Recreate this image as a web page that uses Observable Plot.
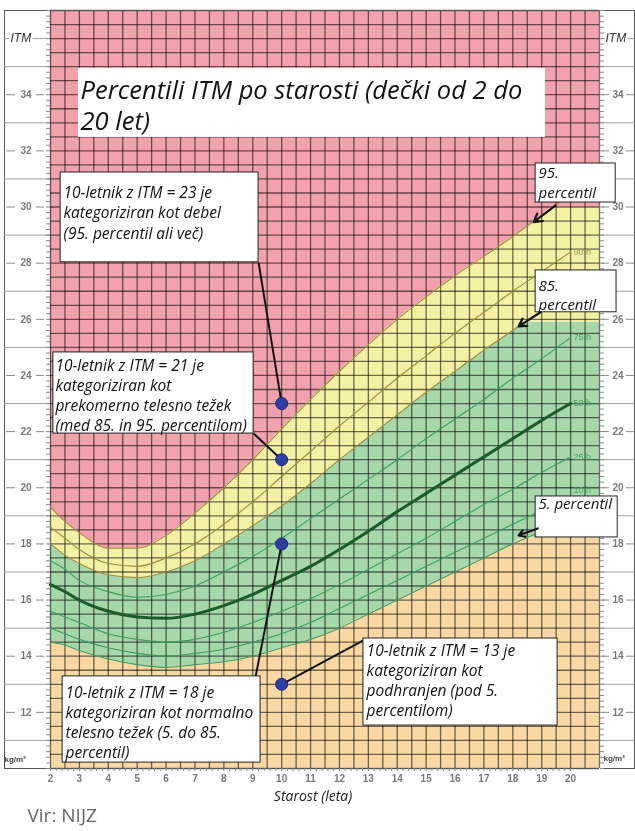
<!DOCTYPE html>
<html>
<head>
<meta charset="utf-8">
<script src="https://cdn.jsdelivr.net/npm/d3@7"></script>
<script src="https://cdn.jsdelivr.net/npm/@observablehq/plot@0.6"></script>
<style>
  html, body { margin: 0; padding: 0; background: #fff; }
  #chart svg { display: block; }
</style>
</head>
<body>
<div id="chart"></div>
<script>
// ---------------- DATA ----------------
const ages = [2, 2.5, 3, 4, 5, 6, 7, 8, 9, 10, 11, 12, 13, 14, 15, 16, 17, 18, 19, 20];
const p5  = [14.5, 14.4, 14.2, 13.9, 13.7, 13.6, 13.7, 13.8, 14.0, 14.3, 14.6, 15.0, 15.5, 16.0, 16.5, 17.0, 17.5, 18.0, 18.45, 18.9];
const p10 = [15.0, 14.8, 14.6, 14.3, 14.1, 14.0, 14.1, 14.25, 14.5, 14.8, 15.2, 15.7, 16.2, 16.7, 17.2, 17.7, 18.2, 18.7, 19.2, 19.7];
const p25 = [15.6, 15.4, 15.2, 14.8, 14.6, 14.5, 14.6, 14.85, 15.2, 15.6, 16.05, 16.55, 17.1, 17.65, 18.2, 18.8, 19.4, 19.95, 20.55, 21.1];
const p50 = [16.55, 16.3, 16.0, 15.6, 15.4, 15.35, 15.5, 15.8, 16.2, 16.7, 17.2, 17.8, 18.45, 19.15, 19.8, 20.45, 21.1, 21.75, 22.4, 23.0];
const p75 = [17.4, 17.1, 16.7, 16.3, 16.1, 16.2, 16.5, 17.0, 17.55, 18.2, 18.9, 19.6, 20.3, 21.0, 21.75, 22.45, 23.15, 23.9, 24.6, 25.35];
const p85 = [18.0, 17.6, 17.3, 16.9, 16.8, 17.0, 17.4, 18.0, 18.65, 19.35, 20.15, 21.0, 21.8, 22.6, 23.4, 24.15, 24.9, 25.6, 26.3, 27.0];
const p90 = [18.6, 18.2, 17.8, 17.3, 17.2, 17.5, 18.0, 18.7, 19.5, 20.4, 21.3, 22.2, 23.05, 23.9, 24.7, 25.5, 26.25, 27.0, 27.7, 28.4];
const p95 = [19.3, 18.8, 18.4, 17.85, 17.85, 18.3, 19.1, 20.0, 21.0, 22.1, 23.15, 24.15, 25.1, 26.0, 26.8, 27.55, 28.25, 28.95, 29.7, 30.45];

// coloured zone boundaries (as painted in the picture, flattening at the right end)
const zoneAges = [2, 2.5, 3, 4, 5, 6, 7, 8, 9, 10, 11, 12, 13, 14, 15, 16, 17, 18, 18.3, 19, 19.4, 20, 21];
const zone5  = [14.5, 14.4, 14.2, 13.9, 13.7, 13.6, 13.7, 13.8, 14.0, 14.3, 14.6, 15.0, 15.5, 16.0, 16.5, 17.0, 17.5, 18.0, 18.2, 18.25, 18.25, 18.25, 18.25];
const zone85 = [18.0, 17.6, 17.3, 16.9, 16.8, 17.0, 17.4, 18.0, 18.65, 19.35, 20.15, 21.0, 21.8, 22.6, 23.4, 24.15, 24.9, 25.6, 25.85, 25.9, 25.9, 25.9, 25.9];
const zone95 = [19.3, 18.8, 18.4, 17.85, 17.85, 18.3, 19.1, 20.0, 21.0, 22.1, 23.15, 24.15, 25.1, 26.0, 26.8, 27.55, 28.25, 28.95, 29.15, 29.7, 30.0, 30.0, 30.0];

// example children (age 10)
const exampleAges = [10, 10, 10, 10];
const exampleBmi  = [23, 21, 18, 13];

// tick labels
const xTickLabels = [2, 3, 4, 5, 6, 7, 8, 9, 10, 11, 12, 13, 14, 15, 16, 17, 18, 19, 20];
const yTickLabels = [12, 14, 16, 18, 20, 22, 24, 26, 28, 30, 32, 34];
const yOddLines   = [11, 13, 15, 17, 19, 21, 23, 25, 27, 29, 31, 33, 35, 36];

// texts
const titleText = "Percentili ITM po starosti (dečki od 2 do\n20 let)";
const noteTexts = [
  "10-letnik z ITM = 23 je\nkategoriziran kot debel\n(95. percentil ali več)",
  "10-letnik z ITM = 21 je\nkategoriziran kot\nprekomerno telesno težek\n(med 85. in 95. percentilom)",
  "10-letnik z ITM = 18 je\nkategoriziran kot normalno\ntelesno težek (5. do 85.\npercentil)",
  "10-letnik z ITM = 13 je\nkategoriziran kot\npodhranjen (pod 5.\npercentilom)"
];
const percentileNotes = ["95.\npercentil", "85.\npercentil", "5. percentil"];
const lineLabelNames = ["90th", "75th", "50th", "25th", "10th"];

// ---------------- LAYOUT (annotation placement, in chart units) ----------------
const xMin = 2, xMax = 21, yMin = 10, yMax = 37;
const titleBox = {x1: 2.97, x2: 19.13, y1: 32.48, y2: 34.94, tx: 3.04, ty: 34.65};
const noteBoxes = [
  {x1: 2.35, x2: 9.20, y1: 28.03, y2: 31.23, tx: 2.45, ty: 30.82, cx: 9.20, cy: 28.03},
  {x1: 2.10, x2: 9.03, y1: 21.93, y2: 24.82, tx: 2.17, ty: 24.68, cx: 9.03, cy: 21.93},
  {x1: 2.42, x2: 9.27, y1: 10.21, y2: 13.28, tx: 2.52, ty: 13.02, cx: 9.10, cy: 13.28},
  {x1: 12.83, x2: 19.55, y1: 11.53, y2: 14.63, tx: 12.94, ty: 14.52, cx: 12.83, cy: 14.56}
];
const pctBoxes = [
  {x1: 18.79, x2: 21.56, y1: 30.16, y2: 31.55, tx: 18.89, ty: 31.52, ax1: 19.48, ay1: 30.06, ax2: 18.72, ay2: 29.46},
  {x1: 18.79, x2: 21.59, y1: 26.25, y2: 27.74, tx: 18.89, ty: 27.52, ax1: 18.96, ay1: 26.25, ax2: 18.20, ay2: 25.75},
  {x1: 18.79, x2: 21.63, y1: 18.23, y2: 19.69, tx: 18.89, ty: 19.72, ax1: 18.86, ay1: 18.55, ax2: 18.20, ay2: 18.30}
];

// ---------------- BUILD TABLES ----------------
const zoneTable = zoneAges.map((a, i) => ({age: a, z5: zone5[i], z85: zone85[i], z95: zone95[i]}));
const series = [
  {p: "5th", v: p5, grp: "low"}, {p: "10th", v: p10, grp: "low"}, {p: "25th", v: p25, grp: "low"},
  {p: "75th", v: p75, grp: "low"}, {p: "85th", v: p85, grp: "high"}, {p: "90th", v: p90, grp: "high"},
  {p: "95th", v: p95, grp: "high"}
];
const lineRows = series.flatMap(s => ages.map((a, i) => ({age: a, bmi: s.v[i], p: s.p, grp: s.grp})));
const medianRows = ages.map((a, i) => ({age: a, bmi: p50[i]}));
const lastIdx = ages.length - 1;
const labelSeries = {"90th": p90, "75th": p75, "50th": p50, "25th": p25, "10th": p10};
const lineLabels = lineLabelNames.map(n => ({age: ages[lastIdx], bmi: labelSeries[n][lastIdx], text: n}));
const points = exampleAges.map((a, i) => ({age: a, bmi: exampleBmi[i]}));
const notes = noteTexts.map((t, i) => ({...noteBoxes[i], text: t, px: points[i].age, py: points[i].bmi}));
const pnotes = percentileNotes.map((t, i) => ({...pctBoxes[i], text: t}));

// ---------------- STYLE ----------------
const C = {pink: "#f2a2ac", yellow: "#f4f0a4", green: "#a6d8aa", orange: "#f9d8a3",
           high: "#a08c3a", low: "#3e9a5c", median: "#1c5a2a", axis: "#8a8a8a", axisText: "#7a7a7a"};
const curve = "monotone-x";
const noteFont = {fontFamily: "'Open Sans', Lato, sans-serif", fontStyle: "italic", fill: "#111"};
const blank = () => "";

const plot = Plot.plot({
  width: 635, height: 831,
  marginLeft: 50, marginRight: 36, marginTop: 10, marginBottom: 63,
  x: {domain: [xMin, xMax], label: null},
  y: {domain: [yMin, yMax], label: null},
  style: {fontFamily: "'Liberation Sans', Arial, sans-serif", background: "#fff"},
  marks: [
    // zones
    Plot.areaY(zoneTable, {x: "age", y1: () => yMin, y2: "z5", fill: C.orange, curve}),
    Plot.areaY(zoneTable, {x: "age", y1: "z5", y2: "z85", fill: C.green, curve}),
    Plot.areaY(zoneTable, {x: "age", y1: "z85", y2: "z95", fill: C.yellow, curve}),
    Plot.areaY(zoneTable, {x: "age", y1: "z95", y2: () => yMax, fill: C.pink, curve}),
    // grid
    Plot.gridX({ticks: d3.range(xMin, xMax + 0.01, 0.5), stroke: "#707070", strokeOpacity: 1, strokeWidth: 1.3, mixBlendMode: "multiply"}),
    Plot.gridY({ticks: d3.range(yMin, yMax + 0.01, 0.5), stroke: "#707070", strokeOpacity: 1, strokeWidth: 1.3, mixBlendMode: "multiply"}),
    // percentile curves
    Plot.line(lineRows.filter(d => d.grp === "high"), {x: "age", y: "bmi", z: "p", stroke: C.high, strokeWidth: 1.1, curve}),
    Plot.line(lineRows.filter(d => d.grp === "low"), {x: "age", y: "bmi", z: "p", stroke: C.low, strokeWidth: 1.1, curve}),
    Plot.line(medianRows, {x: "age", y: "bmi", stroke: C.median, strokeWidth: 3, curve}),
    Plot.text(lineLabels.filter(d => d.text !== "10th"), {x: "age", y: "bmi", text: "text", dx: 3, textAnchor: "start", fontSize: 9,
      fill: d => d.text === "90th" ? "#9c9a5c" : "#4a9c64"}),
    Plot.text(lineLabels.filter(d => d.text === "10th"), {x: "age", y: "bmi", text: "text", dx: 3, dy: -6, textAnchor: "start", fontSize: 9,
      fill: "#4a9c64"}),
    // outer frame
    Plot.ruleY([yMin, yMax], {stroke: "#555", strokeWidth: 1}),
    Plot.ruleX([xMin], {dx: -46, stroke: "#555"}),
    Plot.ruleX([xMax], {dx: 35, stroke: "#555"}),
    // left axis area
    Plot.axisY({anchor: "left", ticks: [yMin, yMax], tickSize: 46, tickFormat: blank, stroke: "#555", label: null}),
    Plot.axisY({anchor: "left", ticks: yOddLines, tickSize: 46, tickFormat: blank, stroke: "#a0a0a0", label: null}),
    Plot.axisY({anchor: "left", ticks: d3.range(yMin, yMax + 0.01, 0.2), tickSize: 4, tickFormat: blank, stroke: C.axis, label: null}),
    Plot.axisY({anchor: "left", ticks: yTickLabels, tickSize: 8, dx: -6, tickFormat: blank, stroke: C.axis, label: null}),
    Plot.axisY({anchor: "left", ticks: yTickLabels, tickSize: 9, dx: -35, tickFormat: blank, stroke: C.axis, label: null}),
    Plot.axisY({anchor: "left", ticks: yTickLabels, tickSize: 0, tickPadding: 19, fontSize: 10, fontWeight: "bold", fill: C.axisText, label: null}),
    // right axis area
    Plot.axisY({anchor: "right", ticks: [yMin, yMax], tickSize: 36, tickFormat: blank, stroke: "#555", label: null}),
    Plot.axisY({anchor: "right", ticks: yOddLines, tickSize: 36, tickFormat: blank, stroke: "#a0a0a0", label: null}),
    Plot.axisY({anchor: "right", ticks: d3.range(yMin, yMax + 0.01, 0.2), tickSize: 4, tickFormat: blank, stroke: C.axis, label: null}),
    Plot.axisY({anchor: "right", ticks: yTickLabels, tickSize: 7, dx: 2, tickFormat: blank, stroke: C.axis, label: null}),
    Plot.axisY({anchor: "right", ticks: yTickLabels, tickSize: 9, dx: 26, tickFormat: blank, stroke: C.axis, label: null}),
    Plot.axisY({anchor: "right", ticks: yTickLabels, tickSize: 0, tickPadding: 13, fontSize: 10, fontWeight: "bold", fill: C.axisText, label: null}),
    // bottom axis
    Plot.axisX({anchor: "bottom", ticks: d3.range(xMin, 20.01, 0.2), tickSize: 3, tickFormat: blank, stroke: C.axis, label: null}),
    Plot.axisX({anchor: "bottom", ticks: xTickLabels, tickSize: 0, tickPadding: 6, fontSize: 10, fontWeight: "bold", fill: C.axisText, label: null}),
    // axis captions
    Plot.text(["ITM"], {frameAnchor: "top-left", dx: -40, dy: 23, textAnchor: "start", fontSize: 12, fontStyle: "italic",
      fill: "#333", stroke: "#fff", strokeWidth: 4, text: d => d}),
    Plot.text(["ITM"], {frameAnchor: "top-right", dx: 6, dy: 23, textAnchor: "start", fontSize: 12, fontStyle: "italic",
      fill: "#333", stroke: "#fff", strokeWidth: 4, text: d => d}),
    Plot.text(["kg/m²"], {frameAnchor: "bottom-left", dx: -46, dy: -7, textAnchor: "start", fontSize: 8, fontWeight: "bold", fill: "#444", text: d => d}),
    Plot.text(["kg/m²"], {frameAnchor: "bottom-right", dx: 4, dy: -8, textAnchor: "start", fontSize: 8, fontWeight: "bold", fill: "#444", text: d => d}),
    Plot.text(["Starost (leta)"], {frameAnchor: "bottom", dx: -12, dy: 32, fontSize: 14, ...noteFont, fill: "#222", text: d => d}),
    Plot.text(["Vir: NIJZ"], {frameAnchor: "bottom-left", dx: -23, dy: 53, textAnchor: "start", fontSize: 19,
      fontFamily: "'Open Sans', sans-serif", fill: "#666", text: d => d}),
    // connectors and example points
    Plot.link(notes, {x1: "cx", y1: "cy", x2: "px", y2: "py", stroke: "#111", strokeWidth: 2}),
    Plot.dot(points, {x: "age", y: "bmi", r: 6, fill: "#2e3ea4", stroke: "#1b2472", strokeWidth: 1}),
    // title box
    Plot.rect([titleBox], {x1: "x1", x2: "x2", y1: "y1", y2: "y2", fill: "#fff"}),
    Plot.text([titleBox], {x: "tx", y: "ty", text: () => titleText, lineAnchor: "top", textAnchor: "start",
      fontSize: 25.5, lineHeight: 1.22, ...noteFont}),
    // note boxes
    Plot.rect(notes, {x1: "x1", x2: "x2", y1: "y1", y2: "y2", fill: "#fff", stroke: "#222", strokeWidth: 1}),
    Plot.text(notes, {x: "tx", y: "ty", text: "text", lineAnchor: "top", textAnchor: "start", fontSize: 15.5, lineHeight: 1.3, ...noteFont}),
    Plot.rect(pnotes, {x1: "x1", x2: "x2", y1: "y1", y2: "y2", fill: "#fff", stroke: "#222", strokeWidth: 1}),
    Plot.text(pnotes, {x: "tx", y: "ty", text: "text", lineAnchor: "top", textAnchor: "start", fontSize: 15, lineHeight: 1.3, ...noteFont}),
    Plot.arrow(pnotes, {x1: "ax1", y1: "ay1", x2: "ax2", y2: "ay2", stroke: "#111", strokeWidth: 2.2, headLength: 7})
  ]
});
document.getElementById("chart").append(plot);
</script>
</body>
</html>
